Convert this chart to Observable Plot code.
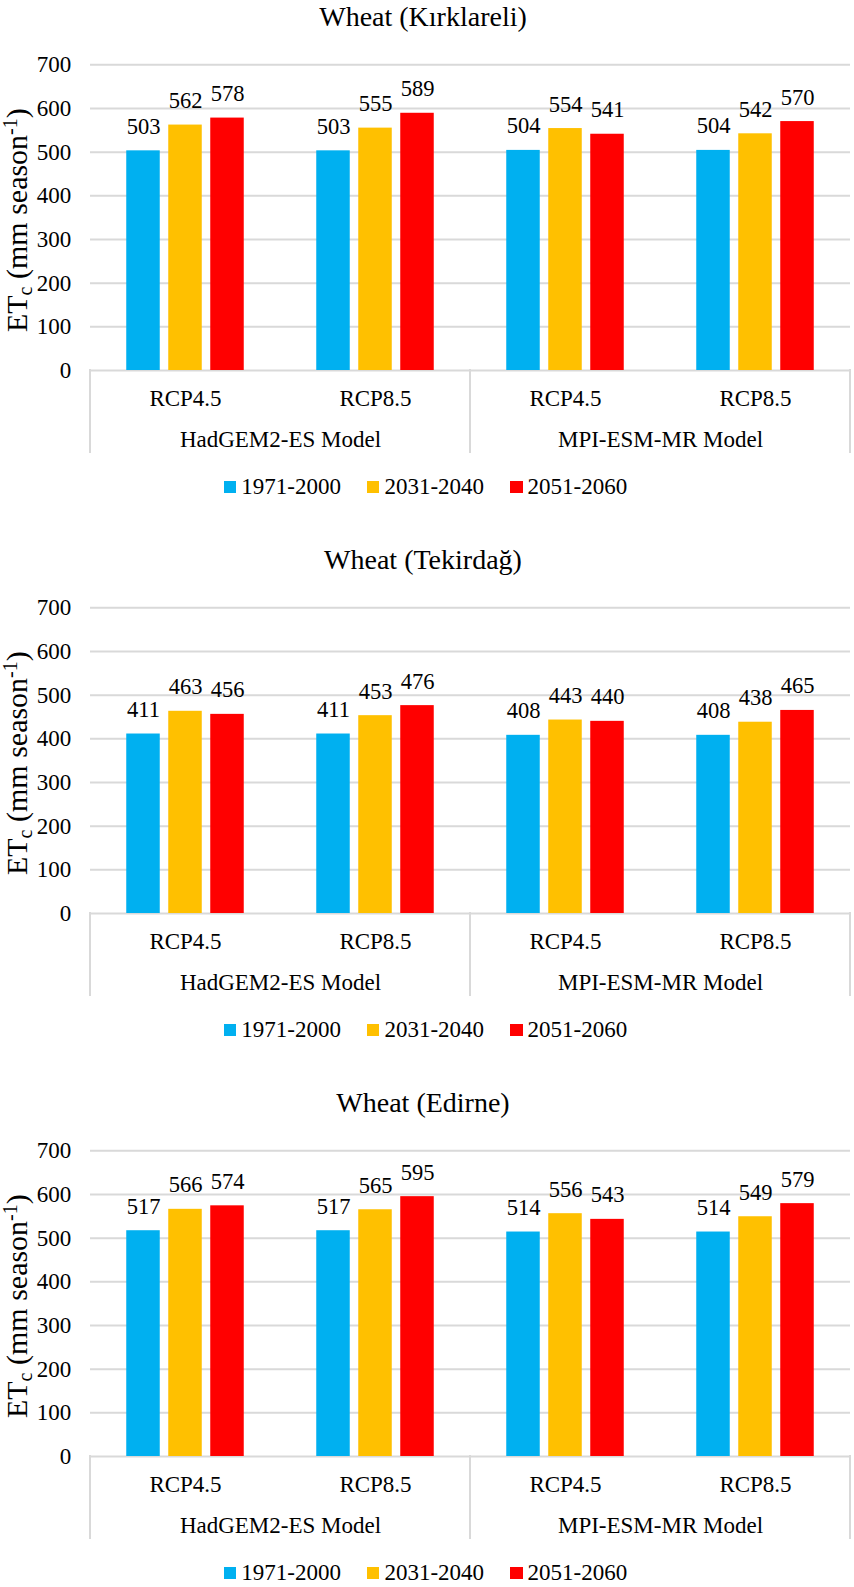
<!DOCTYPE html>
<html>
<head>
<meta charset="utf-8">
<script src="https://cdn.jsdelivr.net/npm/d3@7"></script>
<script src="https://cdn.jsdelivr.net/npm/@observablehq/plot@0.6"></script>
<style>
  body { margin: 0; background: #fff; font-family: "Liberation Serif", "Times New Roman", serif; color: #000; }
  .panel { width: 854px; height: 543px; overflow: hidden; }
  .panel.last { height: 501px; }
  .title { height: 34px; line-height: 34px; font-size: 28px; text-align: center; padding-right: 8px; box-sizing: border-box; width: 854px; }
  .legend { height: 54px; width: 854px; display: flex; justify-content: center; align-items: center; gap: 26px; font-size: 23px; padding-right: 3px; box-sizing: border-box; }
  .item { display: flex; align-items: center; }
  .sw { width: 12.5px; height: 12.5px; margin-right: 5px; }
  svg { display: block; }
  svg text, svg tspan { font-family: "Liberation Serif", "Times New Roman", serif !important; }
</style>
</head>
<body>
<div id="root"></div>
<script>
// ---- data ----
const titles = ["Wheat (Kırklareli)", "Wheat (Tekirdağ)", "Wheat (Edirne)"];
const models = ["HadGEM2-ES Model", "MPI-ESM-MR Model"];
const scenarios = ["RCP4.5", "RCP8.5"];
const periods = ["1971-2000", "2031-2040", "2051-2060"];
const colors = ["#00B0F0", "#FFC000", "#FF0000"];
const yTicks = [0, 100, 200, 300, 400, 500, 600, 700];

// values per period, ordered: HadGEM2 RCP4.5, HadGEM2 RCP8.5, MPI RCP4.5, MPI RCP8.5
const kirklareli1971 = [503, 503, 504, 504];
const kirklareli2031 = [562, 555, 554, 542];
const kirklareli2051 = [578, 589, 541, 570];

const tekirdag1971 = [411, 411, 408, 408];
const tekirdag2031 = [463, 453, 443, 438];
const tekirdag2051 = [456, 476, 440, 465];

const edirne1971 = [517, 517, 514, 514];
const edirne2031 = [566, 565, 556, 549];
const edirne2051 = [574, 595, 543, 579];

const panelsData = [
  [kirklareli1971, kirklareli2031, kirklareli2051],
  [tekirdag1971, tekirdag2031, tekirdag2051],
  [edirne1971, edirne2031, edirne2051]
];

const keys = models.flatMap(m => scenarios.map(s => m + "|" + s));
const FONT = "Liberation Serif, Times New Roman, serif";

function makePlot(values) {
  const rows = periods.flatMap((p, pi) => keys.map((k, gi) => ({
    key: k, period: p, pi, value: values[pi][gi]
  })));
  const W = 854, ML = 90, MR = 4, MT = 30.3, MB = 90, H = 426;
  const band = (W - ML - MR) / keys.length;
  const barW = 33.5, step = 42;
  const grid = "#D9D9D9";

  const separators = (index, scales, vals, dims) => {
    const g = d3.create("svg:g").attr("stroke", grid).attr("stroke-width", 2);
    const y0 = dims.height - dims.marginBottom;
    const xs = [...models.map(m => scales.x(m + "|" + scenarios[0])), dims.width - dims.marginRight];
    for (const x of xs) g.append("line").attr("x1", x).attr("x2", x).attr("y1", y0 - 1).attr("y2", y0 + 83);
    return g.node();
  };

  const yLabel = (index, scales, vals, dims) => {
    const cy = (dims.marginTop + dims.height - dims.marginBottom) / 2 + 3;
    const t = d3.create("svg:text")
      .attr("transform", `translate(27,${cy}) rotate(-90)`)
      .attr("text-anchor", "middle")
      .attr("font-size", 30)
      .attr("font-family", FONT)
      .attr("fill", "#000");
    t.append("tspan").text("ET");
    t.append("tspan").attr("font-size", 20).attr("dy", 5).text("c");
    t.append("tspan").attr("dy", -5).text(" (mm season");
    t.append("tspan").attr("font-size", 20).attr("dy", -10).text("-1");
    t.append("tspan").attr("dy", 10).text(")");
    return t.node();
  };

  return Plot.plot({
    width: W, height: H,
    marginLeft: ML, marginRight: MR, marginTop: MT, marginBottom: MB,
    style: { fontFamily: FONT, fontSize: "23px", color: "#000", background: "#fff", overflow: "visible" },
    x: { type: "band", domain: keys, padding: 0, axis: null },
    y: { domain: [0, 700] },
    marks: [
      Plot.ruleY(yTicks, { stroke: grid, strokeWidth: 2 }),
      ...periods.map((p, pi) => {
        const c = band / 2 + (pi - 1) * step;
        return Plot.barY(rows.filter(r => r.pi === pi), {
          x: "key", y: "value", fill: colors[pi],
          insetLeft: c - barW / 2, insetRight: band - c - barW / 2
        });
      }),
      ...periods.map((p, pi) => Plot.text(rows.filter(r => r.pi === pi), {
        x: "key", y: "value", text: d => String(d.value),
        dx: (pi - 1) * step, dy: -17, lineAnchor: "bottom", fontSize: 22.5, fontFamily: FONT, fill: "#000"
      })),
      Plot.text(keys, { x: d => d, text: d => d.split("|")[1], frameAnchor: "bottom", dy: 35, lineAnchor: "bottom", fontSize: 23, fontFamily: FONT, fill: "#000" }),
      Plot.text(models, { x: m => m + "|" + scenarios[0], dx: band / 2, text: d => d, frameAnchor: "bottom", dy: 76, lineAnchor: "bottom", fontSize: 23, fontFamily: FONT, fill: "#000" }),
      separators,
      yLabel,
      Plot.axisY({ ticks: yTicks, tickSize: 0, tickPadding: 19.3, fontSize: 23, fontFamily: FONT, label: null })
    ]
  });
}

const root = document.getElementById("root");
panelsData.forEach((vals, i) => {
  const panel = document.createElement("div");
  panel.className = "panel" + (i === panelsData.length - 1 ? " last" : "");
  const t = document.createElement("div");
  t.className = "title";
  t.textContent = titles[i];
  panel.appendChild(t);
  panel.appendChild(makePlot(vals));
  const lg = document.createElement("div");
  lg.className = "legend";
  periods.forEach((p, pi) => {
    const it = document.createElement("div");
    it.className = "item";
    const sw = document.createElement("div");
    sw.className = "sw";
    sw.style.background = colors[pi];
    const lab = document.createElement("span");
    lab.textContent = p;
    it.appendChild(sw);
    it.appendChild(lab);
    lg.appendChild(it);
  });
  panel.appendChild(lg);
  root.appendChild(panel);
});
</script>
</body>
</html>
